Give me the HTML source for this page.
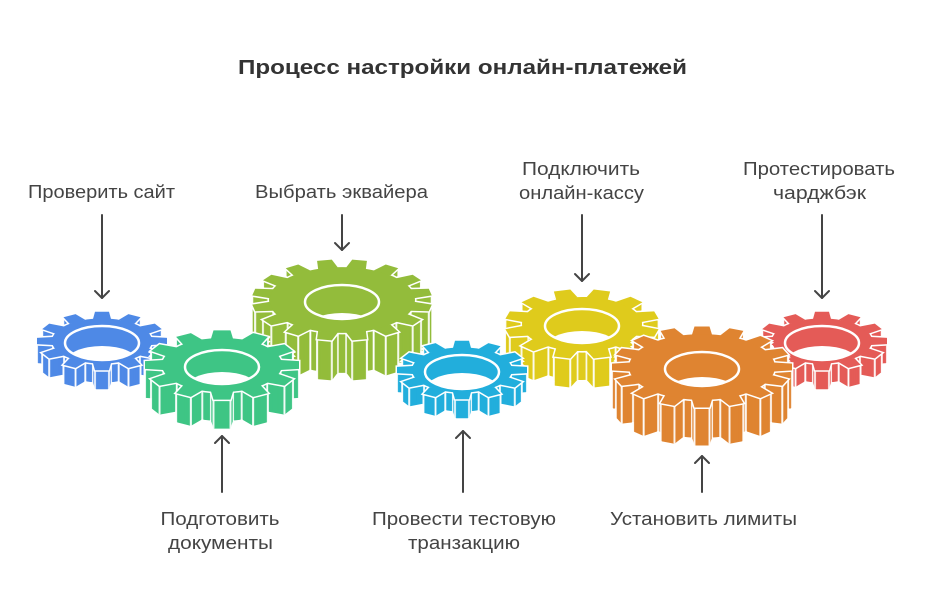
<!DOCTYPE html>
<html><head><meta charset="utf-8"><style>
html,body{margin:0;padding:0;background:#fff}
svg{display:block}
</style></head><body>
<svg width="930" height="601" viewBox="0 0 930 601" xmlns="http://www.w3.org/2000/svg">
<defs>
<marker id="mk" markerUnits="userSpaceOnUse" markerWidth="4" markerHeight="4" refX="2" refY="2" overflow="visible"><circle cx="2" cy="2" r="1.2" fill="#fff" stroke="none"/></marker>
<clipPath id="hc"><ellipse cx="0" cy="2" rx="37" ry="17"/></clipPath>
<g id="rS">
<circle r="50" vector-effect="non-scaling-stroke"/>
<path d="M-9,-49L-7,-65L7,-65L9,-49Z" vector-effect="non-scaling-stroke"/>
<path d="M-9,-49L-7,-65L7,-65L9,-49Z" transform="rotate(30)" vector-effect="non-scaling-stroke"/>
<path d="M-9,-49L-7,-65L7,-65L9,-49Z" transform="rotate(60)" vector-effect="non-scaling-stroke"/>
<path d="M-9,-49L-7,-65L7,-65L9,-49Z" transform="rotate(90)" vector-effect="non-scaling-stroke"/>
<path d="M-9,-49L-7,-65L7,-65L9,-49Z" transform="rotate(120)" vector-effect="non-scaling-stroke"/>
<path d="M-9,-49L-7,-65L7,-65L9,-49Z" transform="rotate(150)" vector-effect="non-scaling-stroke"/>
<path d="M-9,-49L-7,-65L7,-65L9,-49Z" transform="rotate(180)" vector-effect="non-scaling-stroke"/>
<path d="M-9,-49L-7,-65L7,-65L9,-49Z" transform="rotate(210)" vector-effect="non-scaling-stroke"/>
<path d="M-9,-49L-7,-65L7,-65L9,-49Z" transform="rotate(240)" vector-effect="non-scaling-stroke"/>
<path d="M-9,-49L-7,-65L7,-65L9,-49Z" transform="rotate(270)" vector-effect="non-scaling-stroke"/>
<path d="M-9,-49L-7,-65L7,-65L9,-49Z" transform="rotate(300)" vector-effect="non-scaling-stroke"/>
<path d="M-9,-49L-7,-65L7,-65L9,-49Z" transform="rotate(330)" vector-effect="non-scaling-stroke"/>
</g>
<g id="rM">
<circle r="60" vector-effect="non-scaling-stroke"/>
<path d="M-11,-58.5L-8.5,-77L8.5,-77L11,-58.5Z" vector-effect="non-scaling-stroke"/>
<path d="M-11,-58.5L-8.5,-77L8.5,-77L11,-58.5Z" transform="rotate(30)" vector-effect="non-scaling-stroke"/>
<path d="M-11,-58.5L-8.5,-77L8.5,-77L11,-58.5Z" transform="rotate(60)" vector-effect="non-scaling-stroke"/>
<path d="M-11,-58.5L-8.5,-77L8.5,-77L11,-58.5Z" transform="rotate(90)" vector-effect="non-scaling-stroke"/>
<path d="M-11,-58.5L-8.5,-77L8.5,-77L11,-58.5Z" transform="rotate(120)" vector-effect="non-scaling-stroke"/>
<path d="M-11,-58.5L-8.5,-77L8.5,-77L11,-58.5Z" transform="rotate(150)" vector-effect="non-scaling-stroke"/>
<path d="M-11,-58.5L-8.5,-77L8.5,-77L11,-58.5Z" transform="rotate(180)" vector-effect="non-scaling-stroke"/>
<path d="M-11,-58.5L-8.5,-77L8.5,-77L11,-58.5Z" transform="rotate(210)" vector-effect="non-scaling-stroke"/>
<path d="M-11,-58.5L-8.5,-77L8.5,-77L11,-58.5Z" transform="rotate(240)" vector-effect="non-scaling-stroke"/>
<path d="M-11,-58.5L-8.5,-77L8.5,-77L11,-58.5Z" transform="rotate(270)" vector-effect="non-scaling-stroke"/>
<path d="M-11,-58.5L-8.5,-77L8.5,-77L11,-58.5Z" transform="rotate(300)" vector-effect="non-scaling-stroke"/>
<path d="M-11,-58.5L-8.5,-77L8.5,-77L11,-58.5Z" transform="rotate(330)" vector-effect="non-scaling-stroke"/>
</g>
<g id="rL">
<circle r="73" vector-effect="non-scaling-stroke"/>
<path d="M-10,-72L-7.5,-90L7.5,-90L10,-72Z" vector-effect="non-scaling-stroke"/>
<path d="M-10,-72L-7.5,-90L7.5,-90L10,-72Z" transform="rotate(22.5)" vector-effect="non-scaling-stroke"/>
<path d="M-10,-72L-7.5,-90L7.5,-90L10,-72Z" transform="rotate(45)" vector-effect="non-scaling-stroke"/>
<path d="M-10,-72L-7.5,-90L7.5,-90L10,-72Z" transform="rotate(67.5)" vector-effect="non-scaling-stroke"/>
<path d="M-10,-72L-7.5,-90L7.5,-90L10,-72Z" transform="rotate(90)" vector-effect="non-scaling-stroke"/>
<path d="M-10,-72L-7.5,-90L7.5,-90L10,-72Z" transform="rotate(112.5)" vector-effect="non-scaling-stroke"/>
<path d="M-10,-72L-7.5,-90L7.5,-90L10,-72Z" transform="rotate(135)" vector-effect="non-scaling-stroke"/>
<path d="M-10,-72L-7.5,-90L7.5,-90L10,-72Z" transform="rotate(157.5)" vector-effect="non-scaling-stroke"/>
<path d="M-10,-72L-7.5,-90L7.5,-90L10,-72Z" transform="rotate(180)" vector-effect="non-scaling-stroke"/>
<path d="M-10,-72L-7.5,-90L7.5,-90L10,-72Z" transform="rotate(202.5)" vector-effect="non-scaling-stroke"/>
<path d="M-10,-72L-7.5,-90L7.5,-90L10,-72Z" transform="rotate(225)" vector-effect="non-scaling-stroke"/>
<path d="M-10,-72L-7.5,-90L7.5,-90L10,-72Z" transform="rotate(247.5)" vector-effect="non-scaling-stroke"/>
<path d="M-10,-72L-7.5,-90L7.5,-90L10,-72Z" transform="rotate(270)" vector-effect="non-scaling-stroke"/>
<path d="M-10,-72L-7.5,-90L7.5,-90L10,-72Z" transform="rotate(292.5)" vector-effect="non-scaling-stroke"/>
<path d="M-10,-72L-7.5,-90L7.5,-90L10,-72Z" transform="rotate(315)" vector-effect="non-scaling-stroke"/>
<path d="M-10,-72L-7.5,-90L7.5,-90L10,-72Z" transform="rotate(337.5)" vector-effect="non-scaling-stroke"/>
</g>
<g id="gS" transform="scale(1,0.45)"><use href="#rS"/></g>
<g id="gM0" transform="scale(1,0.45)"><use href="#rM"/></g>
<g id="gM15" transform="scale(1,0.45) rotate(15)"><use href="#rM"/></g>
<g id="gL0" transform="scale(1,0.45)"><use href="#rL"/></g>
<g id="gL11" transform="scale(1,0.45) rotate(11.25)"><use href="#rL"/></g>

<g id="oS"><use href="#gS" y="19"/><use href="#gS" y="15"/><use href="#gS" y="11"/><use href="#gS" y="7"/><use href="#gS" y="3"/></g>
<g id="sS"><use href="#gS" y="19"/><use href="#gS" y="18"/><use href="#gS" y="17"/><use href="#gS" y="16"/><use href="#gS" y="15"/><use href="#gS" y="14"/><use href="#gS" y="13"/><use href="#gS" y="12"/><use href="#gS" y="11"/><use href="#gS" y="10"/><use href="#gS" y="9"/><use href="#gS" y="8"/><use href="#gS" y="7"/><use href="#gS" y="6"/><use href="#gS" y="5"/><use href="#gS" y="4"/><use href="#gS" y="3"/><use href="#gS" y="2"/><use href="#gS" y="1"/></g>

<g id="oM0"><use href="#gM0" y="29"/><use href="#gM0" y="25"/><use href="#gM0" y="21"/><use href="#gM0" y="17"/><use href="#gM0" y="13"/><use href="#gM0" y="9"/><use href="#gM0" y="5"/><use href="#gM0" y="1"/></g>
<g id="sM0"><use href="#gM0" y="29"/><use href="#gM0" y="28"/><use href="#gM0" y="27"/><use href="#gM0" y="26"/><use href="#gM0" y="25"/><use href="#gM0" y="24"/><use href="#gM0" y="23"/><use href="#gM0" y="22"/><use href="#gM0" y="21"/><use href="#gM0" y="20"/><use href="#gM0" y="19"/><use href="#gM0" y="18"/><use href="#gM0" y="17"/><use href="#gM0" y="16"/><use href="#gM0" y="15"/><use href="#gM0" y="14"/><use href="#gM0" y="13"/><use href="#gM0" y="12"/><use href="#gM0" y="11"/><use href="#gM0" y="10"/><use href="#gM0" y="9"/><use href="#gM0" y="8"/><use href="#gM0" y="7"/><use href="#gM0" y="6"/><use href="#gM0" y="5"/><use href="#gM0" y="4"/><use href="#gM0" y="3"/><use href="#gM0" y="2"/><use href="#gM0" y="1"/></g>

<g id="oM15"><use href="#gM15" y="29"/><use href="#gM15" y="25"/><use href="#gM15" y="21"/><use href="#gM15" y="17"/><use href="#gM15" y="13"/><use href="#gM15" y="9"/><use href="#gM15" y="5"/><use href="#gM15" y="1"/></g>
<g id="sM15"><use href="#gM15" y="29"/><use href="#gM15" y="28"/><use href="#gM15" y="27"/><use href="#gM15" y="26"/><use href="#gM15" y="25"/><use href="#gM15" y="24"/><use href="#gM15" y="23"/><use href="#gM15" y="22"/><use href="#gM15" y="21"/><use href="#gM15" y="20"/><use href="#gM15" y="19"/><use href="#gM15" y="18"/><use href="#gM15" y="17"/><use href="#gM15" y="16"/><use href="#gM15" y="15"/><use href="#gM15" y="14"/><use href="#gM15" y="13"/><use href="#gM15" y="12"/><use href="#gM15" y="11"/><use href="#gM15" y="10"/><use href="#gM15" y="9"/><use href="#gM15" y="8"/><use href="#gM15" y="7"/><use href="#gM15" y="6"/><use href="#gM15" y="5"/><use href="#gM15" y="4"/><use href="#gM15" y="3"/><use href="#gM15" y="2"/><use href="#gM15" y="1"/></g>

<g id="oL11"><use href="#gL11" y="40"/><use href="#gL11" y="36"/><use href="#gL11" y="32"/><use href="#gL11" y="28"/><use href="#gL11" y="24"/><use href="#gL11" y="20"/><use href="#gL11" y="16"/><use href="#gL11" y="12"/><use href="#gL11" y="8"/><use href="#gL11" y="4"/></g>
<g id="sL11"><use href="#gL11" y="40"/><use href="#gL11" y="39"/><use href="#gL11" y="38"/><use href="#gL11" y="37"/><use href="#gL11" y="36"/><use href="#gL11" y="35"/><use href="#gL11" y="34"/><use href="#gL11" y="33"/><use href="#gL11" y="32"/><use href="#gL11" y="31"/><use href="#gL11" y="30"/><use href="#gL11" y="29"/><use href="#gL11" y="28"/><use href="#gL11" y="27"/><use href="#gL11" y="26"/><use href="#gL11" y="25"/><use href="#gL11" y="24"/><use href="#gL11" y="23"/><use href="#gL11" y="22"/><use href="#gL11" y="21"/><use href="#gL11" y="20"/><use href="#gL11" y="19"/><use href="#gL11" y="18"/><use href="#gL11" y="17"/><use href="#gL11" y="16"/><use href="#gL11" y="15"/><use href="#gL11" y="14"/><use href="#gL11" y="13"/><use href="#gL11" y="12"/><use href="#gL11" y="11"/><use href="#gL11" y="10"/><use href="#gL11" y="9"/><use href="#gL11" y="8"/><use href="#gL11" y="7"/><use href="#gL11" y="6"/><use href="#gL11" y="5"/><use href="#gL11" y="4"/><use href="#gL11" y="3"/><use href="#gL11" y="2"/><use href="#gL11" y="1"/></g>

<g id="oL0"><use href="#gL0" y="38"/><use href="#gL0" y="34"/><use href="#gL0" y="30"/><use href="#gL0" y="26"/><use href="#gL0" y="22"/><use href="#gL0" y="18"/><use href="#gL0" y="14"/><use href="#gL0" y="10"/><use href="#gL0" y="6"/><use href="#gL0" y="2"/></g>
<g id="sL0"><use href="#gL0" y="38"/><use href="#gL0" y="37"/><use href="#gL0" y="36"/><use href="#gL0" y="35"/><use href="#gL0" y="34"/><use href="#gL0" y="33"/><use href="#gL0" y="32"/><use href="#gL0" y="31"/><use href="#gL0" y="30"/><use href="#gL0" y="29"/><use href="#gL0" y="28"/><use href="#gL0" y="27"/><use href="#gL0" y="26"/><use href="#gL0" y="25"/><use href="#gL0" y="24"/><use href="#gL0" y="23"/><use href="#gL0" y="22"/><use href="#gL0" y="21"/><use href="#gL0" y="20"/><use href="#gL0" y="19"/><use href="#gL0" y="18"/><use href="#gL0" y="17"/><use href="#gL0" y="16"/><use href="#gL0" y="15"/><use href="#gL0" y="14"/><use href="#gL0" y="13"/><use href="#gL0" y="12"/><use href="#gL0" y="11"/><use href="#gL0" y="10"/><use href="#gL0" y="9"/><use href="#gL0" y="8"/><use href="#gL0" y="7"/><use href="#gL0" y="6"/><use href="#gL0" y="5"/><use href="#gL0" y="4"/><use href="#gL0" y="3"/><use href="#gL0" y="2"/><use href="#gL0" y="1"/></g>
</defs>

<!-- Title -->
<text x="462.5" y="74" text-anchor="middle" font-family="'Liberation Sans', sans-serif" font-size="20" font-weight="bold" fill="#333" textLength="449" lengthAdjust="spacingAndGlyphs">Процесс настройки онлайн-платежей</text>

<!-- Olive gear -->
<g transform="translate(342,300)">
<use href="#oL11" fill="#fff" stroke="#fff" stroke-width="3"/>
<use href="#sL11" fill="#93bc3b" marker-start="url(#mk)" marker-mid="url(#mk)"/>
<use href="#gL11" fill="#fff" stroke="#fff" stroke-width="3"/>
<use href="#gL11" fill="#93bc3b"/>
<g clip-path="url(#hc)"><ellipse cx="0" cy="30" rx="37" ry="17" fill="#fff"/></g>
<ellipse cx="0" cy="2" rx="37" ry="17" fill="none" stroke="#fff" stroke-width="2.5"/>
</g>

<!-- Blue gear -->
<g transform="translate(102,341)">
<use href="#oS" fill="#fff" stroke="#fff" stroke-width="3"/>
<use href="#sS" fill="#4e89e6" marker-start="url(#mk)" marker-mid="url(#mk)"/>
<use href="#gS" fill="#fff" stroke="#fff" stroke-width="3"/>
<use href="#gS" fill="#4e89e6"/>
<g clip-path="url(#hc)"><ellipse cx="0" cy="22" rx="37" ry="17" fill="#fff"/></g>
<ellipse cx="0" cy="2" rx="37" ry="17" fill="none" stroke="#fff" stroke-width="2.5"/>
</g>

<!-- Green gear -->
<g transform="translate(222,365)">
<use href="#oM0" fill="#fff" stroke="#fff" stroke-width="3"/>
<use href="#sM0" fill="#3ec585" marker-start="url(#mk)" marker-mid="url(#mk)"/>
<use href="#gM0" fill="#fff" stroke="#fff" stroke-width="3"/>
<use href="#gM0" fill="#3ec585"/>
<g clip-path="url(#hc)"><ellipse cx="0" cy="24" rx="37" ry="17" fill="#fff"/></g>
<ellipse cx="0" cy="2" rx="37" ry="17" fill="none" stroke="#fff" stroke-width="2.5"/>
</g>

<!-- Yellow gear -->
<g transform="translate(582,324)">
<use href="#oM15" fill="#fff" stroke="#fff" stroke-width="3"/>
<use href="#sM15" fill="#dfcb1c" marker-start="url(#mk)" marker-mid="url(#mk)"/>
<use href="#gM15" fill="#fff" stroke="#fff" stroke-width="3"/>
<use href="#gM15" fill="#dfcb1c"/>
<g clip-path="url(#hc)"><ellipse cx="0" cy="24" rx="37" ry="17" fill="#fff"/></g>
<ellipse cx="0" cy="2" rx="37" ry="17" fill="none" stroke="#fff" stroke-width="2.5"/>
</g>

<!-- Cyan gear -->
<g transform="translate(462,370)">
<use href="#oS" fill="#fff" stroke="#fff" stroke-width="3"/>
<use href="#sS" fill="#22aedc" marker-start="url(#mk)" marker-mid="url(#mk)"/>
<use href="#gS" fill="#fff" stroke="#fff" stroke-width="3"/>
<use href="#gS" fill="#22aedc"/>
<g clip-path="url(#hc)"><ellipse cx="0" cy="20" rx="37" ry="17" fill="#fff"/></g>
<ellipse cx="0" cy="2" rx="37" ry="17" fill="none" stroke="#fff" stroke-width="2.5"/>
</g>

<!-- Red gear -->
<g transform="translate(822,341)">
<use href="#oS" fill="#fff" stroke="#fff" stroke-width="3"/>
<use href="#sS" fill="#e45b57" marker-start="url(#mk)" marker-mid="url(#mk)"/>
<use href="#gS" fill="#fff" stroke="#fff" stroke-width="3"/>
<use href="#gS" fill="#e45b57"/>
<g clip-path="url(#hc)"><ellipse cx="0" cy="22" rx="37" ry="17" fill="#fff"/></g>
<ellipse cx="0" cy="2" rx="37" ry="17" fill="none" stroke="#fff" stroke-width="2.5"/>
</g>

<!-- Orange gear -->
<g transform="translate(702,367)">
<use href="#oL0" fill="#fff" stroke="#fff" stroke-width="3"/>
<use href="#sL0" fill="#df8431" marker-start="url(#mk)" marker-mid="url(#mk)"/>
<use href="#gL0" fill="#fff" stroke="#fff" stroke-width="3"/>
<use href="#gL0" fill="#df8431"/>
<g clip-path="url(#hc)"><ellipse cx="0" cy="27" rx="37" ry="17" fill="#fff"/></g>
<ellipse cx="0" cy="2" rx="37" ry="17" fill="none" stroke="#fff" stroke-width="2.5"/>
</g>

<!-- Arrows -->
<g stroke="#444" stroke-width="2" fill="none" stroke-linecap="round" stroke-linejoin="round">
<line x1="102" y1="215" x2="102" y2="298"/><polyline points="95,291 102,298 109,291"/>
<line x1="342" y1="215" x2="342" y2="250"/><polyline points="335,243 342,250 349,243"/>
<line x1="582" y1="215" x2="582" y2="281"/><polyline points="575,274 582,281 589,274"/>
<line x1="822" y1="215" x2="822" y2="298"/><polyline points="815,291 822,298 829,291"/>
<line x1="222" y1="436" x2="222" y2="492"/><polyline points="215,443 222,436 229,443"/>
<line x1="463" y1="431" x2="463" y2="492"/><polyline points="456,438 463,431 470,438"/>
<line x1="702" y1="456" x2="702" y2="492"/><polyline points="695,463 702,456 709,463"/>
</g>

<!-- Labels -->
<g font-family="'Liberation Sans', sans-serif" font-size="18" fill="#444" text-anchor="middle">
<text x="101.5" y="198" textLength="147" lengthAdjust="spacingAndGlyphs">Проверить сайт</text>
<text x="341.5" y="198" textLength="173" lengthAdjust="spacingAndGlyphs">Выбрать эквайера</text>
<text x="581" y="175" textLength="118" lengthAdjust="spacingAndGlyphs">Подключить</text>
<text x="581.5" y="199" textLength="125" lengthAdjust="spacingAndGlyphs">онлайн-кассу</text>
<text x="819" y="175" textLength="152" lengthAdjust="spacingAndGlyphs">Протестировать</text>
<text x="819.5" y="199" textLength="93" lengthAdjust="spacingAndGlyphs">чарджбэк</text>
<text x="220" y="525" textLength="119" lengthAdjust="spacingAndGlyphs">Подготовить</text>
<text x="220.5" y="549" textLength="105" lengthAdjust="spacingAndGlyphs">документы</text>
<text x="464" y="525" textLength="184" lengthAdjust="spacingAndGlyphs">Провести тестовую</text>
<text x="464" y="549" textLength="112" lengthAdjust="spacingAndGlyphs">транзакцию</text>
<text x="703.5" y="525" textLength="187" lengthAdjust="spacingAndGlyphs">Установить лимиты</text>
</g>
</svg>
</body></html>
